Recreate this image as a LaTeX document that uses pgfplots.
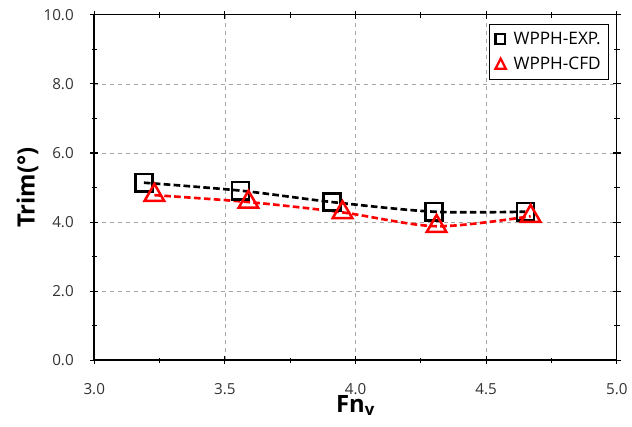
\documentclass[border=0pt]{standalone}
\usepackage{pgfplots}
\pgfplotsset{compat=1.18}
\usepackage{fontspec}
\setmainfont{Open Sans}
\begin{document}
\begin{tikzpicture}[x=1pt,y=1pt]
\begin{axis}[
  scale only axis,
  width=395pt, height=261pt,
  xmin=3, xmax=5, ymin=0, ymax=10,
  xtick={3,3.5,...,5}, ytick={0,2,...,10},
  minor xtick={3.25,3.75,4.25,4.75},
  minor ytick={1,3,5,7,9},
  xticklabel style={yshift=-11pt, /pgf/number format/.cd,fixed,fixed zerofill,precision=1},
  yticklabel style={xshift=-9pt, /pgf/number format/.cd,fixed,fixed zerofill,precision=1},
  /pgf/number format/assume math mode=true,
  tick label style={font=\fontsize{11.5}{13}\selectfont, text=black!80},
  tick align=center,
  major tick length=6pt,
  minor tick length=4pt,
  tick style={black, line width=0.8pt},
  axis line style={black, line width=0.6pt},
  grid=major,
  major grid style={gray!70, dashed, line width=0.6pt},
  xlabel={Fn\textsubscript{v}},
  ylabel={Trim(°)},
  label style={font=\fontsize{18}{20}\selectfont\bfseries},
  xlabel style={at={(axis description cs:0.5,0)}, anchor=north, yshift=-23pt},
  ylabel style={yshift=-3pt},
  legend style={at={(0.985,0.975)}, anchor=north east, draw=black, line width=0.6pt,
    font=\fontsize{13}{16}\selectfont, inner xsep=4pt, inner ysep=4pt, row sep=4pt,
    /tikz/every odd column/.style={column sep=3pt}},
  legend cell align=left,
]
\addplot[black, line width=2pt, dash pattern=on 5pt off 2.5pt, smooth, tension=0.5, forget plot]
  coordinates {(3.19,5.14) (3.56,4.91) (3.91,4.58) (4.30,4.30) (4.65,4.30)};
\addplot[red, line width=2pt, dash pattern=on 5pt off 2.5pt, smooth, tension=0.5, forget plot]
  coordinates {(3.23,4.78) (3.59,4.58) (3.95,4.28) (4.31,3.88) (4.67,4.17)};
\addplot[only marks, mark=square, mark size=6.5pt, mark options={black, line width=1.9pt, fill=none},
  legend image code/.code={\draw[black, line width=1.7pt] (0.2cm,-3.6pt) rectangle (0.2cm+7.2pt,3.6pt);}]
  coordinates {(3.19,5.14) (3.56,4.91) (3.91,4.58) (4.30,4.30) (4.65,4.30)};
\addlegendentry{WPPH-EXP.}
\addplot[only marks, mark=triangle, mark size=8.5pt, mark options={red, line width=1.9pt, fill=none},
  legend image code/.code={\draw[red, line width=1.7pt] (0.2cm,-3.6pt) -- (0.2cm+7.8pt,-3.6pt) -- (0.2cm+3.9pt,4pt) -- cycle;}]
  coordinates {(3.23,4.78) (3.59,4.58) (3.95,4.28) (4.31,3.88) (4.67,4.17)};
\addlegendentry{WPPH-CFD}
\coordinate (ll) at (rel axis cs:0,0);
\coordinate (ul) at (rel axis cs:0,1);
\coordinate (lr) at (rel axis cs:1,0);
\coordinate (ur) at (rel axis cs:1,1);
\end{axis}
\draw[black, line width=1.6pt] (ul) -- (ll) -- (lr);
\path[use as bounding box] ([shift={(-95*0.75pt,-67*0.75pt)}]ll) rectangle ([shift={(10*0.75pt,15*0.75pt)}]ur);
\end{tikzpicture}
\end{document}
